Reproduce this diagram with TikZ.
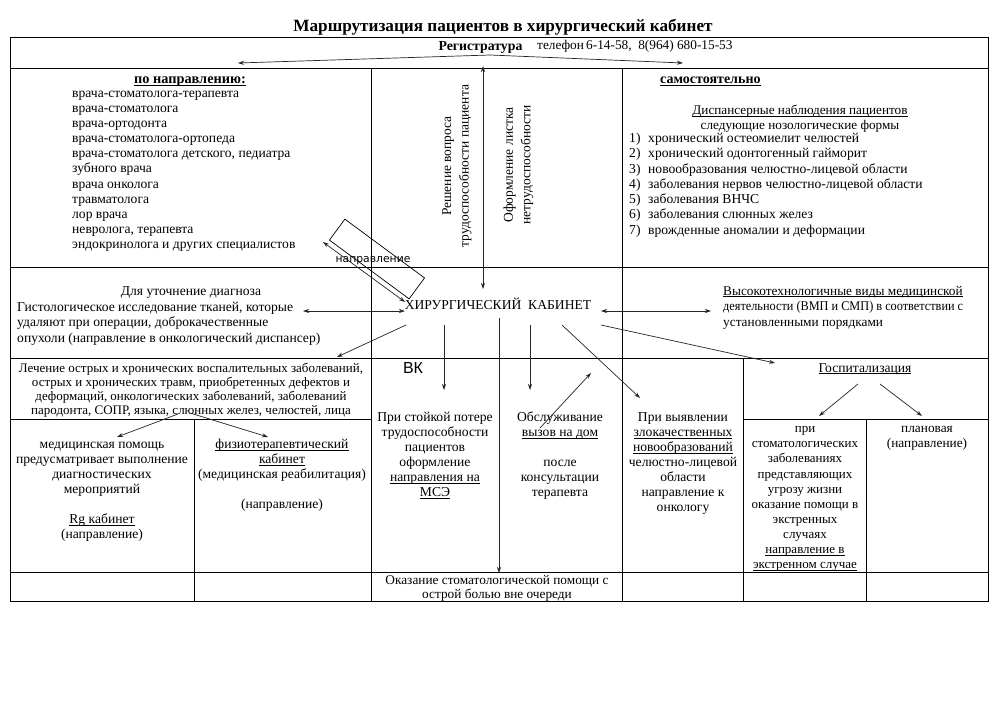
\documentclass[tikz,border=0pt]{standalone}
\usepackage{fontspec}
\usepackage{graphicx}
\setmainfont{Liberation Serif}
\newfontfamily\dvsans{DejaVu Sans}
\newfontfamily\lsans{Liberation Sans}
\usetikzlibrary{arrows.meta}
\newcommand\fsn{\fontsize{13.6}{15.15}\selectfont}
\newcommand\fl{\rule{0pt}{11pt}}
\newcommand\myul[1]{\setbox0\hbox{#1}\rlap{\rule[-1.8pt]{\wd0}{0.6pt}}\box0}
\begin{document}
\begin{tikzpicture}[x=1pt,y=-1pt,
  grid/.style={line width=0.9pt, draw=black},
  arr/.style={-{Stealth[length=6pt,width=4pt]}, line width=0.7pt, draw=black!85},
  darr/.style={{Stealth[length=6pt,width=4pt]}-{Stealth[length=6pt,width=4pt]}, line width=0.7pt, draw=black!85},
  tb/.style={inner sep=0pt, font=\fsn},
  one/.style={inner sep=0pt, font=\fsn},
  hd/.style={inner sep=0pt, font=\bfseries\fontsize{14}{16}\selectfont}]
\useasboundingbox[fill=white] (0,0) rectangle (1005,710);

% table
\draw[grid] (10,37) rectangle (988,601);
\draw[grid] (10,68) -- (988,68);
\draw[grid] (10,267) -- (988,267);
\draw[grid] (10,358) -- (988,358);
\draw[grid] (10,419) -- (371,419);
\draw[grid] (743,419) -- (988,419);
\draw[grid] (10,572) -- (988,572);
\draw[grid] (371,68) -- (371,601);
\draw[grid] (622,68) -- (622,601);
\draw[grid] (743,358) -- (743,601);
\draw[grid] (866,419) -- (866,601);
\draw[grid] (194,419) -- (194,601);

% title and header
\node[one, anchor=base, font=\bfseries\fontsize{17.2}{19}\selectfont] (title) at (503,31) {Маршрутизация пациентов в хирургический кабинет};
\node[hd, anchor=base, font=\bfseries\fontsize{13.8}{15}\selectfont] (reg) at (480.5,50.5) {Регистратура};
\node[one, anchor=base west, font=\fontsize{13.3}{14}\selectfont] (tel) at (537,49) {телефон\,6-14-58, \ 8(964) 680-15-53};

% row 2 left
\node[hd, anchor=base, font=\bfseries\fontsize{14.3}{16}\selectfont] (pn) at (190,83.5) {\myul{по направлению:}};
\node[tb, anchor=north west, align=left] (plist) at (72,86) {\fl врача-стоматолога-терапевта\\врача-стоматолога\\врача-ортодонта\\врача-стоматолога-ортопеда\\врача-стоматолога детского, педиатра\\зубного врача\\врача онколога\\травматолога\\лор врача\\невролога, терапевта\\эндокринолога и других специалистов};

% row 2 middle (vertical texts)
\node[inner sep=0pt, rotate=90, align=center, font=\fontsize{13.5}{17.5}\selectfont] (resh) at (457,166) {Решение вопроса\\трудоспособности пациента};
\node[inner sep=0pt, rotate=90, align=center, font=\fontsize{13.5}{17.5}\selectfont] (oform) at (518.5,165) {Оформление листка\\нетрудоспособности};

% row 2 right
\node[hd, anchor=base west] (samo) at (660,83.5) {\myul{самостоятельно}};
\node[tb, anchor=north, align=center, font=\fontsize{13.2}{15.15}\selectfont] (disp) at (800,103.5) {\fl\myul{Диспансерные наблюдения пациентов}\\следующие нозологические формы};
\node[tb, anchor=north west, align=left, font=\fontsize{13.6}{15.25}\selectfont] (nlist) at (629,131.5) {\fl\makebox[19pt][l]{1)}хронический остеомиелит челюстей\\\makebox[19pt][l]{2)}хронический одонтогенный гайморит\\\makebox[19pt][l]{3)}новообразования челюстно-лицевой области\\\makebox[19pt][l]{4)}заболевания нервов челюстно-лицевой области\\\makebox[19pt][l]{5)}заболевания ВНЧС\\\makebox[19pt][l]{6)}заболевания слюнных желез\\\makebox[19pt][l]{7)}врожденные аномалии и деформации};

% row 3
\node[one, anchor=base] (utoch) at (191,295) {Для уточнение диагноза};
\node[tb, anchor=north west, align=left, font=\fontsize{13.6}{15.4}\selectfont] (gist) at (17,300) {\fl Гистологическое исследование тканей, которые\\удаляют при операции, доброкачественные\\опухоли (направление в онкологический диспансер)};
\node[one, anchor=base] (kab) at (498,309.3) {ХИРУРГИЧЕСКИЙ \ КАБИНЕТ};
\node[tb, anchor=north west, align=left, font=\fontsize{13.3}{15.4}\selectfont] (vmp) at (723,284) {\fl\myul{Высокотехнологичные виды медицинской}\\\scalebox{0.923}[1]{деятельности (ВМП и СМП) в~соответствии~с}\\установленными порядками};

% napravlenie box
\node[draw, line width=0.7pt, rotate=-36.4, minimum width=99pt, minimum height=26pt, inner sep=0pt] (tbox) at (377,259) {};
\node[inner sep=0pt, font=\dvsans\fontsize{10.8}{13}\selectfont] (naprl) at (373,260.5) {направление};

% row 4
\node[tb, anchor=north, align=center, font=\fontsize{13}{14}\selectfont] (lech) at (191,361.5) {\fl Лечение острых и хронических воспалительных заболеваний,\\острых и хронических травм, приобретенных дефектов и\\деформаций, онкологических заболеваний, заболеваний\\пародонта, СОПР, языка, слюнных желез, челюстей, лица};
\node[inner sep=0pt, font=\lsans\fontsize{16}{18}\selectfont] (vk) at (413,368) {ВК};
\node[tb, anchor=north, align=center, font=\fontsize{13.6}{15}\selectfont] (stoik) at (435,410.5) {\fl При стойкой потере\\трудоспособности\\пациентов\\оформление\\\myul{направления на}\\\myul{МСЭ}};
\node[tb, anchor=north, align=center, font=\fontsize{13.6}{15}\selectfont] (obsl) at (560,410.5) {\fl Обслуживание\\\myul{вызов на дом}\\[15pt]после\\консультации\\терапевта};
\node[tb, anchor=north, align=center, font=\fontsize{13.6}{15}\selectfont] (vyav) at (683,410.5) {\fl При выявлении\\\myul{злокачественных}\\\myul{новообразований}\\челюстно-лицевой\\области\\направление к\\онкологу};
\node[one, anchor=base] (gosp) at (865,372) {\myul{Госпитализация}};

% row 5
\node[tb, anchor=north, align=center, font=\fontsize{13.6}{15}\selectfont] (medp) at (102,437.5) {\fl медицинская помощь\\предусматривает выполнение\\диагностических\\мероприятий\\[15pt]\myul{Rg кабинет}\\(направление)};
\node[tb, anchor=north, align=center, font=\fontsize{13.6}{15}\selectfont] (fizio) at (282,437.5) {\fl\myul{физиотерапевтический}\\\myul{кабинет}\\(медицинская реабилитация)\\[15pt](направление)};
\node[tb, anchor=north, align=center, font=\fontsize{13}{15.1}\selectfont] (ekstr) at (805,421.5) {\fl при\\стоматологических\\заболеваниях\\представляющих\\угрозу жизни\\оказание помощи в\\экстренных\\случаях\\\myul{направление в}\\\myul{экстренном случае}};
\node[tb, anchor=north, align=center, font=\fontsize{13.3}{15}\selectfont] (plan) at (927,421.5) {\fl плановая\\(направление)};

% bottom row
\node[tb, anchor=north, align=center, font=\fontsize{13.3}{14}\selectfont] (okaz) at (497,573.5) {\fl Оказание стоматологической помощи с\\острой болью вне очереди};

% connector end points
\coordinate (rg0) at (490,55);
\coordinate (rgL) at (238,63);
\coordinate (rgR) at (683,63);
\coordinate (rgT) at (483,66);
\coordinate (kbT) at (483,289);
\coordinate (kbL) at (405,311);
\coordinate (gsR) at (303,311);
\coordinate (kbR) at (601,311);
\coordinate (vmL) at (711,311);
\coordinate (enE) at (323,242);
\coordinate (kbNW) at (405,302);
\coordinate (k1) at (406,325);
\coordinate (l1) at (337,357);
\coordinate (k2) at (444,325);
\coordinate (s2) at (444,390);
\coordinate (k3) at (499,318);
\coordinate (o3) at (499,573);
\coordinate (k4) at (530,325);
\coordinate (b4) at (530,390);
\coordinate (d5) at (540,428);
\coordinate (u5) at (591,373);
\coordinate (k6) at (562,325);
\coordinate (v6) at (640,398);
\coordinate (k7) at (601,325);
\coordinate (g7) at (775,363);
\coordinate (lc1) at (178,414);
\coordinate (md1) at (117,437);
\coordinate (lc2) at (190,413);
\coordinate (fz2) at (268,437);
\coordinate (gs1) at (858,384);
\coordinate (ek1) at (819,416);
\coordinate (gs2) at (880,384);
\coordinate (pl2) at (922,416);

% connectors
\draw[arr] (rg0) -- (rgL);
\draw[arr] (rg0) -- (rgR);
\draw[darr] (rgT) -- (kbT);
\draw[darr] (gsR) -- (kbL);
\draw[darr] (kbR) -- (vmL);
\draw[darr] (enE) -- (kbNW);
\draw[arr] (k1) -- (l1);
\draw[arr] (k2) -- (s2);
\draw[arr] (k3) -- (o3);
\draw[arr] (k4) -- (b4);
\draw[arr] (d5) -- (u5);
\draw[arr] (k6) -- (v6);
\draw[arr] (k7) -- (g7);
\draw[arr] (lc1) -- (md1);
\draw[arr] (lc2) -- (fz2);
\draw[arr] (gs1) -- (ek1);
\draw[arr] (gs2) -- (pl2);
\end{tikzpicture}
\end{document}
